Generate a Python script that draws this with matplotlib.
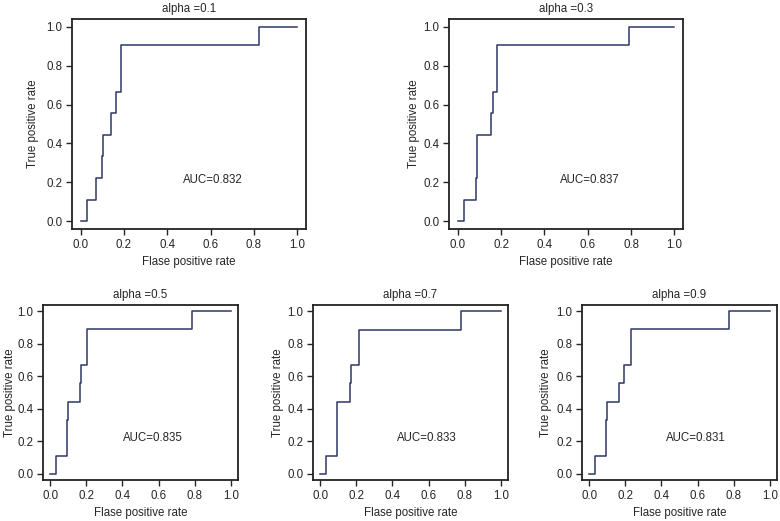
import matplotlib
matplotlib.use("Agg")
import matplotlib.pyplot as plt

plt.rcParams['font.family'] = ['Liberation Sans', 'DejaVu Sans']

# ROC step points (steps-post: tpr holds from fpr[i] on)
alphas = ["0.1", "0.3", "0.5", "0.7", "0.9"]
aucs = ["0.832", "0.837", "0.835", "0.833", "0.831"]

fpr_01 = [0, 0.029, 0.072, 0.099, 0.103, 0.142, 0.165, 0.184, 0.823, 1.0]
tpr_01 = [0, 0.111, 0.222, 0.333, 0.444, 0.556, 0.667, 0.905, 1.0, 1.0]

fpr_03 = [0, 0.028, 0.084, 0.091, 0.153, 0.161, 0.183, 0.791, 1.0]
tpr_03 = [0, 0.111, 0.222, 0.444, 0.556, 0.667, 0.905, 1.0, 1.0]

fpr_05 = [0, 0.030, 0.094, 0.096, 0.165, 0.170, 0.204, 0.787, 1.0]
tpr_05 = [0, 0.111, 0.333, 0.444, 0.556, 0.667, 0.889, 1.0, 1.0]

fpr_07 = [0, 0.030, 0.093, 0.095, 0.164, 0.171, 0.216, 0.781, 1.0]
tpr_07 = [0, 0.111, 0.333, 0.444, 0.556, 0.667, 0.884, 1.0, 1.0]

fpr_09 = [0, 0.033, 0.093, 0.100, 0.163, 0.193, 0.230, 0.774, 1.0]
tpr_09 = [0, 0.111, 0.333, 0.444, 0.556, 0.667, 0.889, 1.0, 1.0]

fprs = [fpr_01, fpr_03, fpr_05, fpr_07, fpr_09]
tprs = [tpr_01, tpr_03, tpr_05, tpr_07, tpr_09]
auc_pos = [(0.61, 0.21), (0.61, 0.21), (0.57, 0.22), (0.59, 0.22), (0.59, 0.22)]

ticks = [0.0, 0.2, 0.4, 0.6, 0.8, 1.0]
tick_labels = ["0.0", "0.2", "0.4", "0.6", "0.8", "1.0"]

fig = plt.figure(figsize=(7.8, 5.21), dpi=100)

boxes = [
    [72 / 780, 1 - 229 / 521, 234 / 780, 210 / 521],
    [449 / 780, 1 - 229 / 521, 234 / 780, 210 / 521],
    [43 / 780, 1 - 480 / 521, 195 / 780, 175 / 521],
    [313 / 780, 1 - 480 / 521, 195 / 780, 175 / 521],
    [582 / 780, 1 - 480 / 521, 195 / 780, 175 / 521],
]
ylab_x = [-0.139, -0.122, -0.141, -0.151, -0.155]

fs = 8.3
txt = '#262626'
for i in range(5):
    ax = fig.add_axes(boxes[i])
    ax.plot(fprs[i], tprs[i], drawstyle='steps-post', color='#2e3764', lw=1.1)
    ax.set_xlim(-0.04, 1.04)
    ax.set_ylim(-0.04, 1.04)
    ax.set_xticks(ticks)
    ax.set_xticklabels(tick_labels)
    ax.set_yticks(ticks)
    ax.set_yticklabels(tick_labels)
    ax.tick_params(labelsize=fs, length=4, width=1, colors=txt, pad=3)
    for s in ax.spines.values():
        s.set_linewidth(1.3)
        s.set_color('#222222')
    ax.set_xlabel("Flase positive rate", fontsize=fs, color=txt, labelpad=4)
    ax.set_ylabel("True positive rate", fontsize=fs, color=txt)
    ax.yaxis.set_label_coords(ylab_x[i], 0.5)
    ax.set_title("alpha =" + alphas[i], fontsize=fs, color=txt, pad=5)
    ax.text(auc_pos[i][0], auc_pos[i][1], "AUC=" + aucs[i], fontsize=fs,
            color=txt, ha='center', va='center')

fig.savefig("out.png", dpi=100)
